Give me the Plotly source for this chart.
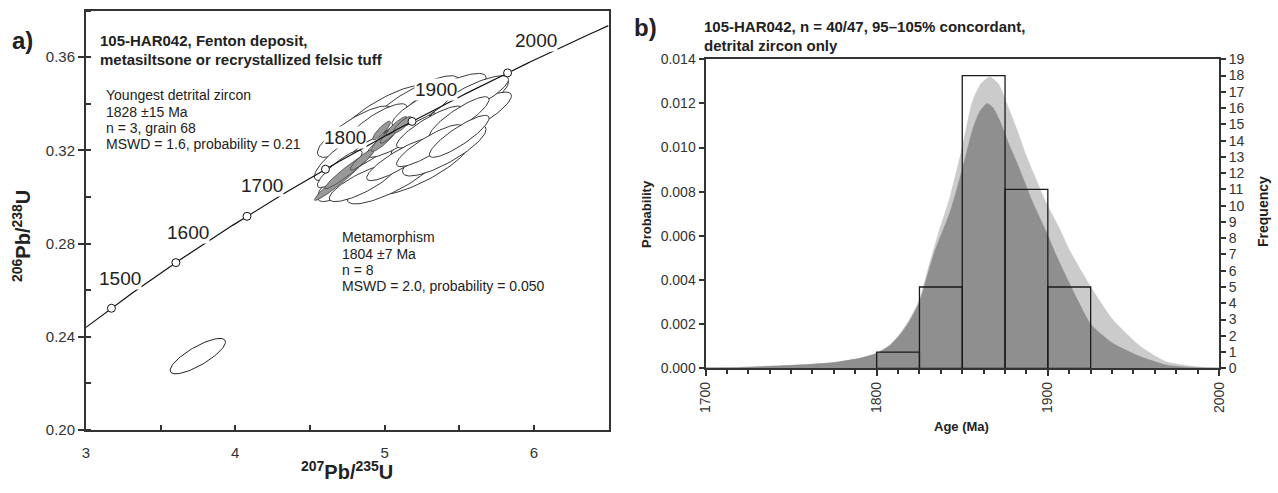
import numpy as np
import plotly.graph_objects as go

W, H = 1278, 493
FONT = "Liberation Sans, Arial, sans-serif"
INK = "#222222"

# ---------------- Panel a) data ----------------
# decay constants (Steiger & Jaeger) for concordia
L238 = 1.55125e-10
L235 = 9.8485e-10
concordia_age_range = [1407.6, 2045.9]          # Ma, curve drawn across the plot
circle_ages = [1450, 1550, 1650, 1750, 1850, 1950]
label_ages = [1500, 1600, 1700, 1800, 1900, 2000]

# white analysis ellipses: centre (207Pb/235U, 206Pb/238U), half-extent in x & y, correlation
white_cx = [5.20, 5.40, 5.00, 5.15, 5.35, 5.25, 5.00, 5.20, 4.95, 5.05,
            5.40, 4.80, 5.55, 4.80, 5.60, 5.40, 5.58, 4.75, 4.85,
            4.90, 5.10, 5.30, 5.50, 5.10, 5.30, 4.95, 5.25, 5.50, 4.70]
white_cy = [0.322, 0.328, 0.316, 0.331, 0.336, 0.313, 0.336, 0.340, 0.325, 0.308,
            0.343, 0.310, 0.340, 0.328, 0.335, 0.320, 0.343, 0.318, 0.306,
            0.320, 0.326, 0.330, 0.334, 0.316, 0.322, 0.331, 0.338, 0.326, 0.312]
white_sx = [0.35, 0.33, 0.32, 0.32, 0.32, 0.32, 0.30, 0.30, 0.30, 0.30,
            0.28, 0.25, 0.28, 0.25, 0.25, 0.28, 0.25, 0.22, 0.22,
            0.20, 0.22, 0.22, 0.20, 0.22, 0.22, 0.20, 0.20, 0.20, 0.15]
white_sy = [0.014, 0.013, 0.014, 0.013, 0.013, 0.012, 0.012, 0.012, 0.013, 0.011,
            0.010, 0.012, 0.011, 0.011, 0.010, 0.011, 0.009, 0.011, 0.008,
            0.009, 0.009, 0.009, 0.009, 0.009, 0.009, 0.009, 0.008, 0.009, 0.008]
white_rho = [0.84, 0.84, 0.84, 0.84, 0.84, 0.82, 0.82, 0.82, 0.84, 0.82,
             0.82, 0.84, 0.84, 0.82, 0.84, 0.82, 0.82, 0.84, 0.82,
             0.87, 0.87, 0.87, 0.87, 0.87, 0.87, 0.82, 0.82, 0.87, 0.87]

# grey (metamorphic) ellipses
grey_cx = [4.70, 4.76, 4.85, 5.00, 5.05, 5.08, 4.98, 5.12]
grey_cy = [0.3075, 0.3115, 0.3160, 0.3250, 0.3280, 0.3305, 0.3285, 0.3310]
grey_sx = [0.17, 0.16, 0.08, 0.09, 0.08, 0.07, 0.06, 0.06]
grey_sy = [0.009, 0.008, 0.0045, 0.0055, 0.005, 0.004, 0.004, 0.0035]
grey_rho = [0.97, 0.96, 0.90, 0.90, 0.92, 0.90, 0.88, 0.85]

# discordant outlier
out_cx, out_cy, out_sx, out_sy, out_rho = 3.749, 0.2317, 0.185, 0.0076, 0.80

# ---------------- Panel b) data ----------------
age_light = [1700, 1720, 1740, 1760, 1775, 1790, 1800, 1808, 1814, 1819, 1825, 1830, 1836, 1843,
             1850, 1856, 1861, 1866, 1871, 1876, 1882, 1888, 1894, 1899, 1907, 1913, 1925, 1938,
             1954, 1969, 1987, 2000]
prob_light = [0.00002, 0.00004, 0.0001, 0.00017, 0.00026, 0.00045, 0.00068, 0.00107, 0.0016, 0.0022,
              0.0031, 0.0045, 0.0061, 0.0078, 0.0100, 0.0121, 0.0129, 0.0132, 0.0129, 0.0120,
              0.0108, 0.0095, 0.0084, 0.0075, 0.0063, 0.0053, 0.0037, 0.0022, 0.0010, 0.0003,
              0.00007, 0.00002]
age_dark = [1700, 1720, 1740, 1760, 1775, 1790, 1800, 1808, 1814, 1819, 1825, 1830, 1834, 1843,
            1850, 1856, 1860, 1864.5, 1868, 1872, 1877, 1882, 1891, 1899, 1905, 1911, 1918, 1925,
            1938, 1954, 1969, 1981, 2000]
prob_dark = [0.00002, 0.00004, 0.0001, 0.00017, 0.00026, 0.00045, 0.00068, 0.00105, 0.00155, 0.0021,
             0.0030, 0.0043, 0.0053, 0.0071, 0.0090, 0.0108, 0.0116, 0.0120, 0.0118, 0.0112,
             0.0102, 0.0093, 0.00755, 0.0062, 0.0051, 0.0041, 0.0030, 0.0020, 0.00113, 0.00053,
             0.00015, 0.00005, 0.00001]
bin_centres = [1812.5, 1837.5, 1862.5, 1887.5, 1912.5]
bin_counts = [1, 5, 18, 11, 5]
bin_width = 25


def conc(t_ma):
    t = np.asarray(t_ma, dtype=float) * 1e6
    return np.exp(L235 * t) - 1, np.exp(L238 * t) - 1


def ellipse(cx, cy, sx, sy, rho, n=90):
    t = np.linspace(0, 2 * np.pi, n)
    x = cx + sx * np.cos(t)
    y = cy + sy * (rho * np.cos(t) + np.sqrt(1 - rho ** 2) * np.sin(t))
    return x, y


fig = go.Figure()

# ---- panel a traces ----
for cx, cy, sx, sy, r in zip(white_cx, white_cy, white_sx, white_sy, white_rho):
    ex, ey = ellipse(cx, cy, sx, sy, r)
    fig.add_trace(go.Scatter(x=ex, y=ey, mode="lines", fill="toself", fillcolor="white",
                             line=dict(color=INK, width=0.9), hoverinfo="skip", showlegend=False,
                             xaxis="x", yaxis="y"))
for cx, cy, sx, sy, r in zip(grey_cx, grey_cy, grey_sx, grey_sy, grey_rho):
    ex, ey = ellipse(cx, cy, sx, sy, r)
    fig.add_trace(go.Scatter(x=ex, y=ey, mode="lines", fill="toself", fillcolor="#999999",
                             line=dict(color="#444444", width=0.8), hoverinfo="skip", showlegend=False,
                             xaxis="x", yaxis="y"))
ex, ey = ellipse(out_cx, out_cy, out_sx, out_sy, out_rho)
fig.add_trace(go.Scatter(x=ex, y=ey, mode="lines", fill="toself", fillcolor="white",
                         line=dict(color=INK, width=1), hoverinfo="skip", showlegend=False,
                         xaxis="x", yaxis="y"))

cx_, cy_ = conc(np.linspace(concordia_age_range[0], concordia_age_range[1], 200))
fig.add_trace(go.Scatter(x=cx_, y=cy_, mode="lines", line=dict(color="#111111", width=1.2),
                         hoverinfo="skip", showlegend=False, xaxis="x", yaxis="y"))
px_, py_ = conc(circle_ages)
fig.add_trace(go.Scatter(x=px_, y=py_, mode="markers",
                         marker=dict(size=8, color="white", line=dict(color="#111111", width=1)),
                         hoverinfo="skip", showlegend=False, xaxis="x", yaxis="y"))

# ---- panel b traces ----
fig.add_trace(go.Scatter(x=age_light, y=prob_light, mode="lines", fill="tozeroy",
                         fillcolor="#cbcbcb", line=dict(color="#cbcbcb", width=0.5, shape="spline", smoothing=0.6),
                         hoverinfo="skip", showlegend=False, xaxis="x2", yaxis="y2"))
fig.add_trace(go.Scatter(x=age_dark, y=prob_dark, mode="lines", fill="tozeroy",
                         fillcolor="#8f8f8f", line=dict(color="#8f8f8f", width=0.5, shape="spline", smoothing=0.6),
                         hoverinfo="skip", showlegend=False, xaxis="x2", yaxis="y2"))
fig.add_trace(go.Bar(x=bin_centres, y=bin_counts, width=bin_width,
                     marker=dict(color="rgba(0,0,0,0)", line=dict(color="#1a1a1a", width=1.3)),
                     hoverinfo="skip", showlegend=False, xaxis="x2", yaxis="y3"))


def px2x(px):
    return px / W


def py2y(py):
    return 1 - py / H


axis_common = dict(showgrid=False, zeroline=False, showline=True, linecolor="#333333",
                   linewidth=2, mirror=True, tickcolor="#333333", tickwidth=1.5, automargin=False,
                   tickfont=dict(family=FONT, size=15, color="#333333"))
f14 = dict(family=FONT, size=14, color="#333333")

fig.update_layout(
    width=W, height=H,
    margin=dict(l=0, r=0, t=0, b=0, autoexpand=False),
    paper_bgcolor="white", plot_bgcolor="white",
    font=dict(family=FONT, color=INK),
    barmode="overlay",
    xaxis=dict(domain=[px2x(86), px2x(608.5)], range=[3, 6.5], anchor="y",
               tick0=3, dtick=1, ticks="inside", ticklen=5, ticklabelstandoff=8,
               minor=dict(dtick=0.5, ticks="inside", ticklen=5, tickcolor="#333333", tickwidth=1.5),
               **axis_common),
    yaxis=dict(domain=[py2y(430), py2y(10.5)], range=[0.2, 0.38], anchor="x",
               tick0=0.2, dtick=0.04, tickformat=".2f", ticks="outside", ticklen=6,
               minor=dict(dtick=0.02, ticks="inside", ticklen=5, tickcolor="#333333", tickwidth=1.5),
               **axis_common),
    xaxis2=dict(domain=[px2x(705.5), px2x(1219)], range=[1700, 2000], anchor="y2",
                tick0=1700, dtick=100, tickangle=-90, ticks="outside", ticklen=6,
                minor=dict(dtick=12.5, ticks="outside", ticklen=4, tickcolor="#333333", tickwidth=1.5),
                **{**axis_common, "tickfont": f14}),
    yaxis2=dict(domain=[py2y(368.3), py2y(59.3)], range=[0, 0.014], anchor="x2",
                tick0=0, dtick=0.002, tickformat=".3f", ticks="outside", ticklen=5,
                **{**axis_common, "tickfont": f14}),
    yaxis3=dict(range=[0, 19], overlaying="y2", side="right", anchor="x2",
                tick0=0, dtick=1, ticks="outside", ticklen=5,
                **{**axis_common, "mirror": False, "tickfont": f14}),
)

ann = []


def note(text, px, py, size, bold=False, xanchor="left", yanchor="middle", angle=0, color=INK):
    if bold:
        text = "<b>" + text + "</b>"
    ann.append(dict(text=text, x=px2x(px), y=py2y(py), xref="paper", yref="paper",
                    xanchor=xanchor, yanchor=yanchor, showarrow=False, textangle=angle,
                    font=dict(family=FONT, size=size, color=color)))


# panel labels
note("a)", 10, 41, 24, bold=True)
note("b)", 632, 28, 24, bold=True)

# panel a texts
note("105-HAR042, Fenton deposit,", 98, 41, 15, bold=True)
note("metasiltsone or recrystallized felsic tuff", 98, 59.5, 15, bold=True)
for i, line in enumerate(["Youngest detrital zircon", "1828 ±15 Ma", "n = 3, grain 68",
                          "MSWD = 1.6, probability = 0.21"]):
    note(line, 104, 95.3 + 16.3 * i, 14)
for i, line in enumerate(["Metamorphism", "1804 ±7 Ma", "n = 8",
                          "MSWD = 2.0, probability = 0.050"]):
    note(line, 340, 237.3 + 16.3 * i, 14)
note("<sup>207</sup>Pb/<sup>235</sup>U", 347, 470, 20, bold=True, xanchor="center")
note("<sup>206</sup>Pb/<sup>238</sup>U", 22, 236, 20, bold=True, xanchor="center", angle=-90)

# concordia age labels
lx, ly = conc(label_ages)
for a, x0, y0 in zip(label_ages, lx, ly):
    ann.append(dict(text=str(a), x=x0, y=y0, xref="x", yref="y", xanchor="right", yanchor="bottom",
                    showarrow=False, bgcolor="white", borderpad=0, yshift=-4, xshift=-1,
                    font=dict(family=FONT, size=19, color=INK)))

# panel b texts
note("105-HAR042, n = 40/47, 95–105% concordant,", 702, 26, 15, bold=True)
note("detrital zircon only", 702, 45, 15, bold=True)
note("Probability", 647, 214, 13, bold=True, xanchor="center", angle=-90)
note("Frequency", 1263, 212, 14, bold=True, xanchor="center", angle=-90)
note("Age (Ma)", 961, 426, 13, bold=True, xanchor="center")

fig.update_layout(annotations=ann)
fig.write_html("out.html", config={"displayModeBar": False},
               post_script="document.body.style.margin='0';document.body.style.overflow='hidden';")
